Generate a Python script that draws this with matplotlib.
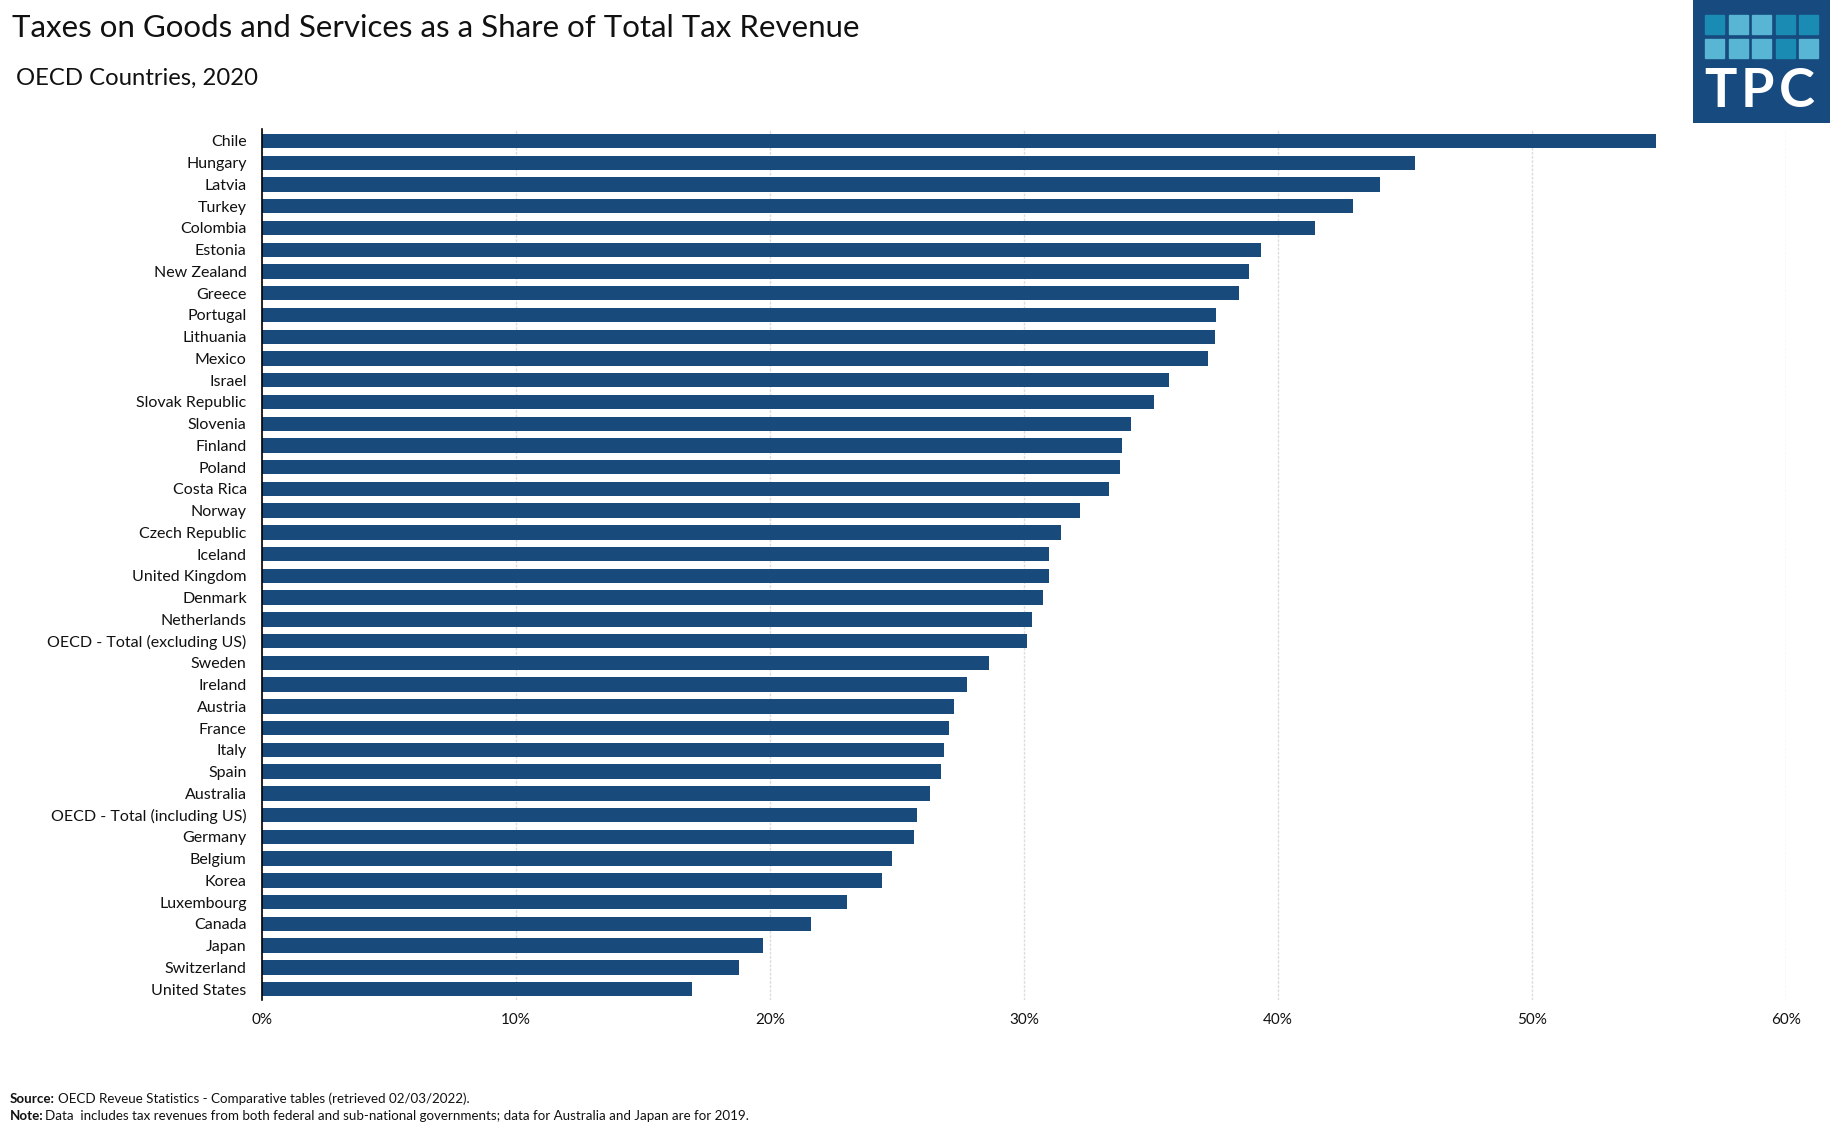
import matplotlib
matplotlib.use("Agg")
import matplotlib.pyplot as plt
from matplotlib.patches import Rectangle
from matplotlib.ticker import FuncFormatter

plt.rcParams['font.family'] = ['Lato', 'DejaVu Sans']

# data (percent of total tax revenue)
countries = [
    "Chile", "Hungary", "Latvia", "Turkey", "Colombia", "Estonia", "New Zealand",
    "Greece", "Portugal", "Lithuania", "Mexico", "Israel", "Slovak Republic",
    "Slovenia", "Finland", "Poland", "Costa Rica", "Norway", "Czech Republic",
    "Iceland", "United Kingdom", "Denmark", "Netherlands", "OECD - Total (excluding US)",
    "Sweden", "Ireland", "Austria", "France", "Italy", "Spain", "Australia",
    "OECD - Total (including US)", "Germany", "Belgium", "Korea", "Luxembourg",
    "Canada", "Japan", "Switzerland", "United States",
]
shares = [
    54.9, 45.4, 44.0, 42.95, 41.45, 39.33, 38.86,
    38.46, 37.56, 37.52, 37.24, 35.71, 35.12,
    34.21, 33.86, 33.78, 33.35, 32.20, 31.46,
    30.98, 30.98, 30.75, 30.31, 30.12,
    28.62, 27.76, 27.24, 27.05, 26.85, 26.73, 26.30,
    25.79, 25.67, 24.80, 24.41, 23.03,
    21.61, 19.72, 18.78, 16.93,
]
x_ticks = [0, 10, 20, 30, 40, 50, 60]

BAR = '#184a7c'
W, H = 1831, 1130

fig = plt.figure(figsize=(W / 100, H / 100), dpi=100)
fig.patch.set_facecolor('white')

# main axes, placed in pixels
left, right, top, bottom = 262, 1786, 129, 1000
ax = fig.add_axes([left / W, 1 - bottom / H, (right - left) / W, (bottom - top) / H])

pos = list(range(len(countries)))
ax.barh(pos, shares, height=0.66, color=BAR, zorder=3)
ax.set_yticks(pos)
ax.set_yticklabels(countries, fontsize=11.5, color='#111111')
ax.set_ylim(len(countries) - 0.5, -0.55)
ax.set_xlim(0, 60)
ax.set_xticks(x_ticks)
ax.xaxis.set_major_formatter(FuncFormatter(lambda v, p: f"{v:.0f}%"))
ax.tick_params(axis='x', length=0, pad=9.5, labelsize=11, labelcolor='#111111')
ax.tick_params(axis='y', length=0, pad=11)

ax.grid(axis='x', color='#dddddd', linewidth=1, linestyle=(0, (2, 1)), zorder=0)
ax.grid(axis='y', visible=False)
for s in ['top', 'right', 'bottom']:
    ax.spines[s].set_visible(False)
ax.spines['left'].set_color('black')
ax.spines['left'].set_linewidth(1.2)
ax.spines['left'].set_zorder(4)

# titles
fig.text(12 / W, 1 - 37 / H, "Taxes on Goods and Services as a Share of Total Tax Revenue",
         fontsize=22.5, va='baseline', ha='left', color='#111111')
fig.text(16 / W, 1 - 85 / H, "OECD Countries, 2020",
         fontsize=17.2, va='baseline', ha='left', color='#111111')

# footer
src = fig.text(10 / W, 1 - 1105 / H, "Source:", fontsize=9.6, fontweight='bold',
               va='bottom', ha='left', color='#111111')
fig.add_artist(plt.Annotation("OECD Reveue Statistics - Comparative tables (retrieved 02/03/2022).",
                              xy=(1, 0), xycoords=src, xytext=(2.5, 0), textcoords='offset points',
                              va='bottom', ha='left', fontsize=9.6, color='#111111'))
note = fig.text(10 / W, 1 - 1122 / H, "Note:", fontsize=9.6, fontweight='bold',
                va='bottom', ha='left', color='#111111')
fig.add_artist(plt.Annotation("Data  includes tax revenues from both federal and sub-national governments; "
                              "data for Australia and Japan are for 2019.",
                              xy=(1, 0), xycoords=note, xytext=(1, 0), textcoords='offset points',
                              va='bottom', ha='left', fontsize=9.6, color='#111111'))

# TPC logo in the top right corner
lx0, lw, lh = 1693, 138, 123
logo = fig.add_axes([lx0 / W, 1 - lh / H, lw / W, lh / H])
logo.set_xlim(0, lw)
logo.set_ylim(lh, 0)
logo.axis('off')
logo.add_patch(Rectangle((0, 0), lw, lh, color='#174a7e'))
dark, light = '#1a8cb4', '#58b6d4'
grid_colors = [[dark, light, light, dark, dark],
               [light, light, light, dark, light]]
col_x = [12, 36, 59, 83, 106]
row_y = [15, 39]
for r, yy in enumerate(row_y):
    for c, xx in enumerate(col_x):
        logo.add_patch(Rectangle((xx, yy), 19, 19, color=grid_colors[r][c]))
for letter, cx in zip("TPC", [27, 64, 104]):
    logo.text(cx, 107, letter, fontsize=39, fontweight='bold', color='white',
              ha='center', va='baseline')

fig.savefig("out.png", dpi=100, facecolor='white')
